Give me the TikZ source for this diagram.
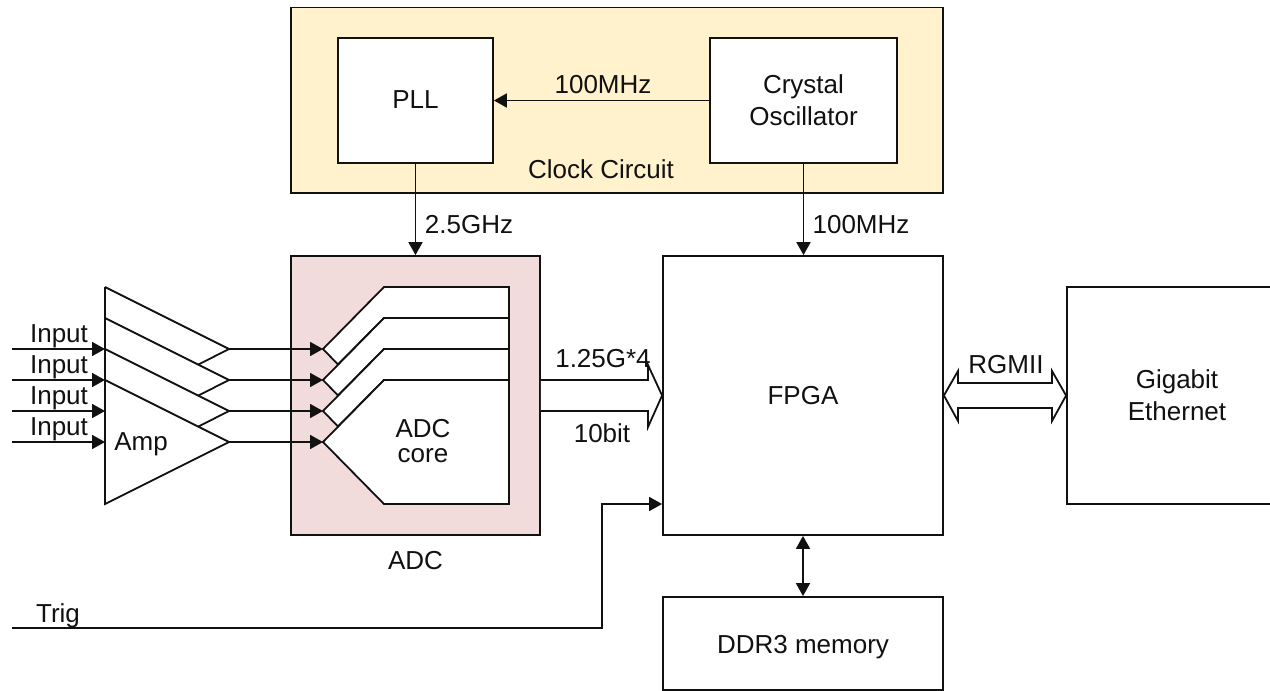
\documentclass[tikz,border=0pt]{standalone}
\usepackage{fontspec}
\setmainfont{Liberation Sans}
\usetikzlibrary{arrows.meta}
\definecolor{clockfill}{HTML}{FFF2CC}
\definecolor{adcfill}{HTML}{F2DCDB}
\definecolor{ink}{HTML}{111111}
\tikzset{
  ln/.style={draw=ink,line width=1.8pt,line join=miter},
  boxn/.style={ln,fill=white,minimum width=#1,inner sep=0pt,align=center,text=ink,font=\fontsize{26}{32}\selectfont},
  lab/.style={inner sep=0pt,text=ink,anchor=base,font=\fontsize{26}{32}\selectfont},
  arr/.style={ln,-{Triangle[length=13pt,width=14pt]}},
  dbl/.style={ln,{Triangle[length=13pt,width=14pt]}-{Triangle[length=13pt,width=14pt]}},
}
\begin{document}
\begin{tikzpicture}[x=1pt,y=-1pt]
\useasboundingbox (0,0) rectangle (1270,691);
% containers
\node[ln,fill=clockfill,minimum width=652pt,minimum height=185.5pt,inner sep=0pt] (clock) at (617,100.25) {};
\node[ln,fill=adcfill,minimum width=249pt,minimum height=279pt,inner sep=0pt] (adc) at (415.5,395.5) {};
% boxes
\node[boxn=155pt,minimum height=125pt,text height=18pt,text depth=3pt] (pll) at (415.5,100.5) {PLL};
\node[boxn=187pt,minimum height=125pt] (osc) at (803.5,100.5) {Crystal\\Oscillator};
\node[boxn=280pt,minimum height=279pt,text height=18pt,text depth=1pt] (fpga) at (803,395.5) {FPGA};
\node[boxn=220pt,minimum height=217pt] (eth) at (1177,395.5) {Gigabit\\Ethernet};
\node[boxn=280pt,minimum height=93pt,text height=20pt,text depth=1pt] (ddr) at (803,643.5) {DDR3 memory};
% clock connectors
\draw[arr] (osc.west) -- (pll.east);
\draw[arr] (pll.south) -- (pll.south |- adc.north);
\draw[arr] (osc.south) -- (osc.south |- fpga.north);
\node[lab] (l100a) at (603,93) {100MHz};
\node[lab] (lclk) at (601,178) {Clock Circuit};
\node[lab] (l25) at (469,233) {2.5GHz};
\node[lab] (l100b) at (861,233) {100MHz};
% amplifier stack
\coordinate (amp1) at (229,349);
\coordinate (amp2) at (229,380);
\coordinate (amp3) at (229,411);
\coordinate (amp4) at (229,442);
\coordinate (in1) at (105,349);
\coordinate (in2) at (105,380);
\coordinate (in3) at (105,411);
\coordinate (in4) at (105,442);
\draw[ln,fill=white] (105,287) -- (amp1) -- (198.5,364.5);
\draw[ln,fill=white] (105,318) -- (amp2) -- (198.5,395.5);
\draw[ln,fill=white] (105,349) -- (amp3) -- (198.5,426.5);
\draw[ln,fill=white] (105,380) -- (amp4) -- (105,504) -- cycle;
\draw[ln] (105,287) -- (105,504);
\node[lab] (lamp) at (141,450) {Amp};
\foreach \i/\y in {1/349,2/380,3/411,4/442}{
  \coordinate (src\i) at (12,\y);
  \draw[arr] (src\i) -- (in\i);
  \node[lab] (linp\i) at (59,\y-7) {Input};
}
% ADC core stack
\coordinate (core1) at (323,349);
\coordinate (core2) at (323,380);
\coordinate (core3) at (323,411);
\coordinate (core4) at (323,442);
\draw[ln,fill=white] (338,364.5) -- (core1) -- (384,287) -- (509,287) -- (509,318) -- (384,318) -- cycle;
\draw[ln,fill=white] (338,395.5) -- (core2) -- (384,318) -- (509,318) -- (509,349) -- (384,349) -- cycle;
\draw[ln,fill=white] (338,426.5) -- (core3) -- (384,349) -- (509,349) -- (509,380) -- (384,380) -- cycle;
\draw[ln,fill=white] (core4) -- (384,380) -- (509,380) -- (509,504) -- (384,504) -- cycle;
\foreach \i in {1,2,3,4}{
  \draw[arr] (amp\i) -- (core\i);
}
\node[lab,align=center,font=\fontsize{26}{25}\selectfont] (lcore) at (423,462) {ADC\\core};
\node[lab] (ladc) at (415.5,569) {ADC};
% bus ADC to FPGA
\coordinate (bustip) at (fpga.west);
\draw[ln,fill=white] (adc.east |- 0,380) -- (648,380) -- (648,365) -- (bustip) -- (648,427) -- (648,411) -- (adc.east |- 0,411);
\node[lab] (lbusa) at (603,367) {1.25G*4};
\node[lab] (lbusb) at (602,442) {10bit};
% RGMII
\draw[ln,fill=white] (fpga.east) -- (958,371) -- (958,383) -- (1052,383) -- (1052,371) -- (eth.west) -- (1052,421) -- (1052,408) -- (958,408) -- (958,421) -- cycle;
\node[lab] (lrg) at (1006,373) {RGMII};
% Trig
\coordinate (trigsrc) at (12,628);
\coordinate (trigend) at (fpga.west |- 0,504);
\draw[arr] (trigsrc) -- (602,628) -- (602,504) -- (trigend);
\node[lab] (ltrig) at (58,622) {Trig};
% DDR
\draw[dbl] (fpga.south) -- (ddr.north);
\end{tikzpicture}
\end{document}
